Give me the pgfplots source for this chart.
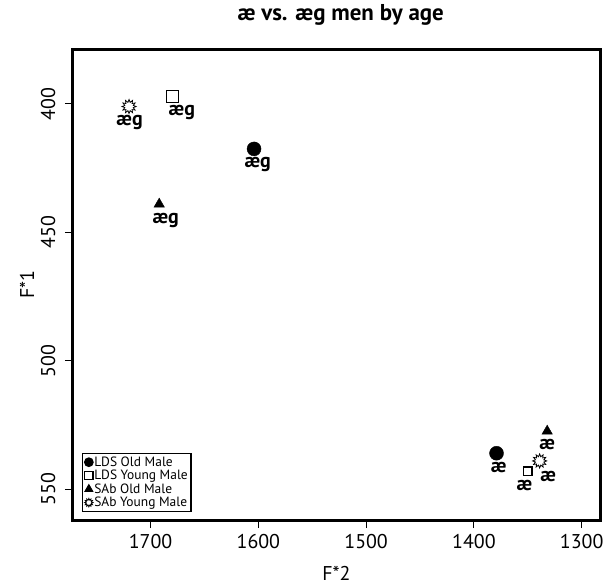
\documentclass[border=0pt]{standalone}
\usepackage{fontspec}
\setmainfont{PT Sans}
\usepackage{pgfplots}
\pgfplotsset{compat=1.18}
\usetikzlibrary{plotmarks}

\pgfdeclareplotmark{sun}{%
  \pgfpathmoveto{\pgfpointpolar{90}{\pgfplotmarksize}}%
  \pgfplotsforeachungrouped \k in {1,...,23}{%
    \pgfmathsetmacro\sunang{90+\k*15}%
    \ifodd\k\relax
      \pgfpathlineto{\pgfpointpolar{\sunang}{0.62\pgfplotmarksize}}%
    \else
      \pgfpathlineto{\pgfpointpolar{\sunang}{\pgfplotmarksize}}%
    \fi
  }%
  \pgfpathclose
  \pgfusepathqfillstroke
}

\begin{document}
\begin{tikzpicture}
\begin{axis}[
  name=ax,
  scale only axis,
  width=527bp, height=471bp,
  x dir=reverse, y dir=reverse,
  xmin=1283, xmax=1772,
  ymin=378.6, ymax=562,
  xtick={1300,1400,1500,1600,1700},
  ytick={400,450,500,550},
  axis line style={line width=3bp},
  tick align=outside,
  major tick length=8bp,
  tick style={line width=1bp, black},
  xtick pos=bottom, ytick pos=left,
  /pgf/number format/assume math mode=true,
  /pgf/number format/1000 sep={},
  ticklabel style={font=\fontsize{20}{22}\selectfont},
  yticklabel style={rotate=90, anchor=south},
  yticklabel shift=6bp,
  xticklabel shift=3bp,
  xlabel={F*2}, ylabel={F*1},
  label style={font=\fontsize{20}{22}\selectfont},
  xlabel style={at={(axis description cs:0.5,-0.1125)}, anchor=center},
  ylabel style={at={(axis description cs:-0.0873,0.5)}, anchor=center, rotate=0},
  title={\bfseries æ vs. æg men by age},
  title style={at={(axis description cs:0.508,1.0594)}, anchor=center, font=\fontsize{23}{25}\selectfont},
  legend style={at={(0.0171,0.017)}, anchor=south west, draw=black, line width=1.3bp,
    font=\fontsize{13.5}{14}\selectfont, inner sep=2bp, row sep=0bp,
    nodes={inner sep=1.2bp}},
  legend cell align=left,
  legend image code/.code={\draw[#1,mark size=4.2bp] plot coordinates {(0.1cm,0cm)};},
]
\addplot[only marks, mark=*, mark size=7bp, black] coordinates {(1604,417.5) (1379,536)};
\addlegendentry{LDS Old Male}
\addplot[only marks, mark=square, mark size=6bp, black, mark options={line width=1.2bp}] coordinates {(1680,397)};
\addlegendentry{LDS Young Male}
\addplot[only marks, mark=triangle*, mark size=6bp, black] coordinates {(1692,439) (1332,527.4)};
\addlegendentry{SAb Old Male}
\addplot[only marks, mark=sun, mark size=7bp, black, mark options={fill=white, line width=0.8bp}] coordinates {(1720,401) (1339,539)};
\addlegendentry{SAb Young Male}
\addplot[only marks, mark=square, mark size=4.2bp, black, mark options={line width=1.2bp}, forget plot] coordinates {(1350,543)};

\begin{scope}[every node/.style={font=\bfseries\fontsize{20}{21}\selectfont, inner sep=0pt, anchor=center}]
\node at (axis cs:1719.5,407.4) {æg};
\node at (axis cs:1671,403.5) {æg};
\node at (axis cs:1600.6,423.4) {æg};
\node at (axis cs:1686,445.2) {æg};
\node at (axis cs:1377,541.4) {æ};
\node at (axis cs:1332,532.8) {æ};
\node at (axis cs:1331,544.9) {æ};
\node at (axis cs:1353,548.4) {æ};
\end{scope}
\end{axis}
\pgfresetboundingbox
\path[use as bounding box] ([xshift=-73bp,yshift=-65bp]ax.south west) rectangle ([xshift=3bp,yshift=49bp]ax.north east);
\end{tikzpicture}
\end{document}
